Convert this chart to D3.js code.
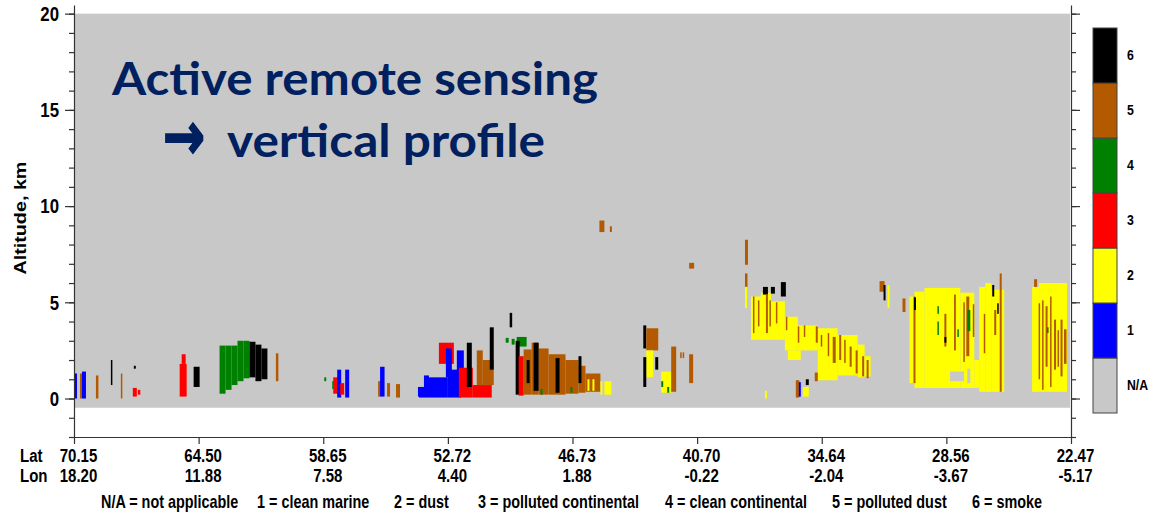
<!DOCTYPE html>
<html>
<head>
<meta charset="utf-8">
<script src="https://cdn.jsdelivr.net/npm/d3@7"></script>
<style>
  body { margin: 0; background: #fff; }
  svg text { font-family: "Liberation Sans", Arial, sans-serif; font-weight: bold; fill: #000; }
</style>
</head>
<body>
<script>
"use strict";

// tick labels along the track
const latLabels = ["70.15", "64.50", "58.65", "52.72", "46.73", "40.70", "34.64", "28.56", "22.47"];
const lonLabels = ["18.20", "11.88", "7.58", "4.40", "1.88", "-0.22", "-2.04", "-3.67", "-5.17"];

// aerosol subtypes
const typeKeys = ["N/A", "1", "2", "3", "4", "5", "6"];
const typeNames = ["not applicable", "clean marine", "dust", "polluted continental", "clean continental", "polluted dust", "smoke"];

// aerosol layers: [profile start, profile end, base km, top km, subtype]
// profile runs 0..1000 along the track (70.15N -> 22.47N)
const layers = [
  // Scandinavia / North Sea
  [0, 3, 0, 1.3, 1], [6, 8, 0, 1.3, 5], [8, 12, 0, 1.4, 1], [22, 24.5, 0, 1.2, 5],
  [37, 38.5, 0.7, 2.0, 6], [47, 48.5, 0, 1.3, 5], [60, 62, 1.55, 1.7, 6],
  [59, 63, 0.1, 0.55, 3], [64, 66.5, 0.2, 0.45, 3],
  [106, 113, 0.1, 1.8, 3], [108, 112, 1.8, 2.3, 3], [120, 126, 0.6, 1.65, 6],
  [146, 152, 0.25, 2.75, 4], [152, 158, 0.45, 2.75, 4], [158, 164, 0.7, 2.75, 4],
  [164, 170, 0.9, 3.0, 4], [170, 176, 1.05, 3.0, 4],
  [176, 182, 1.1, 2.95, 6], [182, 188, 0.9, 2.8, 6], [188, 194, 1.0, 2.6, 6],
  [202.5, 205, 0.9, 2.35, 5], [251, 253, 0.9, 1.1, 4],
  // Benelux / Channel
  [259, 261, 0.5, 0.9, 4], [260, 266, 0.25, 1.1, 3], [264, 268, 0.05, 1.5, 1],
  [267, 271, 0.2, 0.8, 3], [272, 276, 0.05, 1.5, 1],
  [305, 307.5, 0.1, 0.9, 5], [307, 311.5, 0.1, 1.65, 1], [314, 317, 0.1, 0.8, 5], [323, 327, 0.05, 0.75, 5],
  [345, 349, 0.1, 0.6, 1], [348, 353, 0.1, 0.6, 5], [351, 356, 0.1, 1.2, 1],
  [346, 352, 0.05, 0.6, 1], [352, 375, 0.05, 1.1, 1], [375, 388, 0.05, 1.5, 1],
  [366, 381, 1.8, 2.9, 3], [373, 379, 1.1, 2.6, 1], [384, 391, 1.0, 2.5, 1],
  [386, 400, 0.05, 1.6, 3], [400, 419, 0.05, 0.7, 3],
  [404, 410, 0.7, 2.5, 5], [410, 421, 0.7, 2.0, 5],
  [394, 399, 0.6, 2.9, 6], [417, 421, 1.5, 3.7, 6], [437, 439.5, 3.7, 4.45, 6],
  [433, 436, 2.9, 3.15, 4], [439, 442, 2.8, 3.1, 4], [444, 454, 2.7, 3.2, 4],
  // France
  [451, 459, 0.2, 2.55, 5], [459, 466, 0.2, 2.9, 5], [466, 476, 0.2, 2.6, 5], [476, 493, 0.2, 2.3, 5],
  [493, 506, 0.25, 2.0, 5], [506, 513, 0.3, 1.7, 5], [513, 528, 0.35, 1.3, 5],
  [443, 447, 0.2, 3.0, 6], [446, 451, 0.15, 2.2, 3],
  [454, 457, 0.8, 2.0, 6], [461, 466, 0.4, 2.9, 6], [483, 487, 0.3, 2.1, 6], [506, 509, 0.8, 2.2, 6],
  [468, 470, 0.2, 0.5, 4], [498, 500, 0.3, 0.6, 4],
  [515, 517, 0.4, 1.0, 2], [520, 522, 0.4, 1.0, 2], [528, 530, 0.2, 0.9, 2], [532, 539, 0.2, 0.9, 2],
  [527, 532, 8.65, 9.25, 5], [537.5, 539.5, 8.65, 8.95, 5],
  // northern Spain
  [571, 574, 2.6, 3.8, 6], [574, 586, 2.5, 3.65, 5], [574, 581, 1.1, 2.5, 2], [571, 574, 0.6, 2.15, 6],
  [583, 586, 1.5, 2.15, 6],
  [589, 599, 0.3, 1.4, 2], [589, 591, 0.6, 0.9, 4], [595, 597, 0.3, 0.6, 4], [599, 604, 0.35, 2.7, 5],
  [608, 609.5, 2.1, 2.4, 5], [610.5, 612, 2.1, 2.4, 5], [617, 621, 0.8, 2.3, 5], [617, 622, 6.75, 7.05, 5],
  // southern Spain / Mediterranean
  [673, 676, 6.95, 8.25, 5], [673, 675.5, 5.8, 6.5, 5], [673, 675, 4.7, 5.8, 2],
  [679, 689, 3.05, 5.3, 2], [689, 699, 3.05, 5.5, 2], [699, 713, 3.05, 5.05, 2], [713, 726, 2.5, 4.25, 2],
  [716, 729, 2.0, 2.5, 2], [726, 746, 2.5, 3.8, 2], [746, 766, 0.95, 3.65, 2], [766, 786, 1.2, 3.3, 2],
  [786, 793, 1.1, 2.8, 2], [793, 799, 1.15, 2.2, 2],
  [691, 696, 5.4, 5.8, 6], [699, 703, 5.45, 5.8, 6], [709, 714, 5.3, 6.05, 6],
  [681, 682.5, 3.4, 5.3, 5], [686, 687.5, 3.75, 5.1, 5], [694, 696, 3.4, 5.4, 5], [697.5, 699, 3.75, 5.1, 5],
  [704, 705.5, 3.9, 5.0, 5], [714, 715.5, 3.55, 4.25, 5], [726, 727.5, 2.9, 3.75, 5], [732, 733.5, 3.2, 3.8, 5],
  [744, 746, 2.9, 3.75, 5], [749, 750.5, 2.7, 3.3, 5], [756, 757.5, 2.2, 3.4, 5], [761, 764, 1.85, 3.2, 5],
  [767.5, 769.5, 2.0, 3.3, 5], [772.5, 774, 1.85, 3.05, 5], [778, 780, 1.65, 2.7, 5], [784, 786, 1.3, 2.5, 5],
  [790.5, 792.5, 1.15, 2.2, 5], [795, 797, 1.05, 2.0, 5],
  [693, 695, 0, 0.4, 2], [724, 727.5, 0.05, 0.95, 5], [727, 729, 0.1, 0.85, 1], [731, 737, 0.1, 0.6, 2],
  [734, 737, 0.7, 1.0, 6], [743, 746, 0.9, 1.35, 5],
  // Sahara
  [808, 813, 5.55, 6.1, 5], [812, 814, 5.1, 5.9, 6], [816, 818, 4.7, 5.9, 2], [831, 834, 4.5, 5.2, 5],
  [838, 843, 0.8, 5.3, 2], [843, 853, 0.55, 5.55, 2], [853, 889, 0.55, 5.75, 2], [889, 903, 0.55, 5.5, 2],
  [903, 908, 0.55, 2.0, 2],
  [878.7, 892.7, 0.9, 1.4, 0], [896, 899, 0.8, 1.55, 0],
  [842, 844, 0.8, 5.3, 5], [842.5, 844.5, 4.6, 5.25, 6],
  [866, 867.5, 4.4, 4.8, 4], [866, 867.5, 3.3, 4.0, 4], [873, 875, 2.7, 4.4, 5], [873, 875, 2.9, 3.2, 6],
  [882.7, 884.5, 2.5, 5.4, 5], [886, 887.5, 3.2, 3.6, 4], [892, 893.5, 1.9, 5.0, 5],
  [895, 898, 2.2, 5.3, 5], [896, 899, 3.5, 4.6, 4], [901.5, 903, 3.2, 4.9, 5],
  [908, 914, 0.35, 5.8, 2], [914, 920, 0.35, 6.0, 2], [920, 933, 0.35, 5.65, 2],
  [928.5, 930.5, 0.35, 6.5, 5], [921, 923, 5.3, 5.9, 6], [926, 927.5, 4.4, 4.95, 6],
  [912.5, 914, 2.35, 4.4, 5], [923, 925, 3.3, 4.6, 5],
  [961, 968, 0.35, 5.8, 2], [968, 996, 0.35, 6.0, 2], [963, 966, 5.8, 6.2, 5],
  [967.5, 969, 1.0, 4.95, 5], [971, 972.5, 0.45, 5.1, 5], [974.5, 976.5, 1.65, 4.8, 5],
  [979, 980.5, 0.6, 5.3, 5], [983, 985, 1.5, 4.1, 5], [986.5, 988, 1.65, 3.55, 5],
  [989.5, 991.5, 1.15, 4.1, 5], [993, 995.5, 1.8, 3.6, 5], [976, 977.5, 3.4, 3.7, 4]
];

const w = 1157;
const h = 513;

const color = d3.scaleOrdinal()
  .domain(d3.range(7))
  .range(["#c8c8c8", "#0000ff", "#ffff00", "#ff0000", "#008000", "#b35a00", "#000000"]);

const x = d3.scaleLinear().domain([0, 1000]).range([74, 1071]);
const y = d3.scaleLinear().domain([-2, 20.45]).range([437, 5]);

const svg = d3.select("body").append("svg").attr("width", w).attr("height", h);

// squeeze Liberation Sans horizontally into a narrow face, keeping the anchor x in place
function condense(sel, k = 0.82) {
  sel.each(function () {
    const t = d3.select(this);
    const tx = +t.attr("x") || 0;
    t.attr("transform", `translate(${tx * (1 - k)},0) scale(${k},1)`);
  });
}

// plot background (no aerosol)
svg.append("rect")
  .attr("x", x(0))
  .attr("y", y(20))
  .attr("width", x(1000) - x(0) - 1)
  .attr("height", y(-0.48) - y(20))
  .attr("fill", color(0));

// aerosol layers
svg.append("g")
  .selectAll("rect")
  .data(layers)
  .enter()
  .append("rect")
  .attr("x", (d) => x(d[0]))
  .attr("width", (d) => x(d[1]) - x(d[0]))
  .attr("y", (d) => y(d[3]))
  .attr("height", (d) => y(d[2]) - y(d[3]))
  .attr("fill", (d) => color(d[4]));

// title
svg.append("text")
  .attr("x", 112).attr("y", 95)
  .attr("textLength", 486).attr("lengthAdjust", "spacingAndGlyphs")
  .style("font-family", "Lato, 'Open Sans', sans-serif")
  .style("font-size", "46px")
  .style("fill", "#002060")
  .text("Active remote sensing");
svg.append("text")
  .attr("x", 163).attr("y", 159)
  .attr("textLength", 42).attr("lengthAdjust", "spacingAndGlyphs")
  .style("font-family", "'DejaVu Sans', sans-serif")
  .style("font-size", "66px")
  .style("fill", "#002060")
  .style("stroke", "#002060")
  .style("stroke-width", 2)
  .text("\u2192");
svg.append("text")
  .attr("x", 227).attr("y", 157)
  .attr("textLength", 318).attr("lengthAdjust", "spacingAndGlyphs")
  .style("font-family", "Lato, 'Open Sans', sans-serif")
  .style("font-size", "46px")
  .style("fill", "#002060")
  .text("vertical profile");

// axes
const minorTicks = d3.range(-2, 21);
const majorTicks = [0, 5, 10, 15, 20];

function styleAxis(g) {
  g.selectAll("path, line").attr("stroke", "#333").attr("stroke-width", 1.2);
}

svg.append("g")
  .attr("transform", `translate(${x(0)},0)`)
  .call(d3.axisLeft(y).tickValues(minorTicks).tickSize(5).tickSizeOuter(0).tickFormat(""))
  .call(styleAxis);
svg.append("g")
  .attr("transform", `translate(${x(0)},0)`)
  .call(d3.axisLeft(y).tickValues(majorTicks).tickSize(9).tickSizeOuter(0).tickPadding(6))
  .call(styleAxis)
  .call((g) => g.select(".domain").remove())
  .call((g) => g.selectAll(".tick text").style("font-size", "21px").attr("font-family", null).call(condense, 0.8));

svg.append("g")
  .attr("transform", `translate(${x(1000)},0)`)
  .call(d3.axisRight(y).tickValues(minorTicks).tickSize(5).tickSizeOuter(0).tickFormat(""))
  .call(styleAxis);
svg.append("g")
  .attr("transform", `translate(${x(1000)},0)`)
  .call(d3.axisRight(y).tickValues(majorTicks).tickSize(9).tickSizeOuter(0).tickFormat(""))
  .call(styleAxis)
  .call((g) => g.select(".domain").remove());

const trackTicks = d3.range(latLabels.length).map((i) => i * 125);
const xAxis = svg.append("g")
  .attr("transform", `translate(0,${y(-2)})`)
  .call(d3.axisBottom(x).tickValues(trackTicks).tickSize(7).tickSizeOuter(0).tickFormat((d, i) => latLabels[i]))
  .call(styleAxis);
xAxis.selectAll(".tick text")
  .attr("y", 25).attr("dy", 0).attr("x", 4)
  .attr("font-family", null)
  .style("font-size", "19px")
  .call(condense, 0.79);
xAxis.selectAll(".tick")
  .append("text")
  .attr("y", 45).attr("x", 4)
  .attr("text-anchor", "middle")
  .style("font-size", "19px")
  .text((d, i) => lonLabels[i])
  .call(condense, 0.79);

svg.append("text").attr("x", 20).attr("y", y(-2) + 25).style("font-size", "19px").text("Lat").call(condense, 0.79);
svg.append("text").attr("x", 20).attr("y", y(-2) + 45).style("font-size", "19px").text("Lon").call(condense, 0.79);

svg.append("text")
  .attr("transform", `translate(26,${(y(0) + y(20)) / 2 + 12}) rotate(-90)`)
  .attr("text-anchor", "middle")
  .style("font-size", "17px")
  .attr("textLength", 113).attr("lengthAdjust", "spacingAndGlyphs")
  .text("Altitude, km");

// colour bar
const band = d3.scaleBand().domain(typeKeys).range([413, 28]);
const bar = svg.append("g");
bar.selectAll("rect")
  .data(typeKeys)
  .enter()
  .append("rect")
  .attr("x", 1093)
  .attr("y", (d) => band(d))
  .attr("width", 24)
  .attr("height", band.bandwidth())
  .attr("fill", (d, i) => color(i))
  .attr("stroke", "#444")
  .attr("stroke-width", 1);
bar.selectAll("text")
  .data(typeKeys)
  .enter()
  .append("text")
  .attr("x", 1127)
  .attr("y", (d) => band(d) + band.bandwidth() / 2 + 5)
  .style("font-size", "15px")
  .text((d) => d)
  .call(condense);

// legend line under the chart
const legendX = [101, 257, 394, 478, 665, 832, 972];
svg.append("g")
  .selectAll("text")
  .data(typeKeys)
  .enter()
  .append("text")
  .attr("x", (d, i) => legendX[i])
  .attr("y", 508)
  .style("font-size", "18px")
  .text((d, i) => `${d} = ${typeNames[i]}`)
  .call(condense, 0.8);
</script>
</body>
</html>
